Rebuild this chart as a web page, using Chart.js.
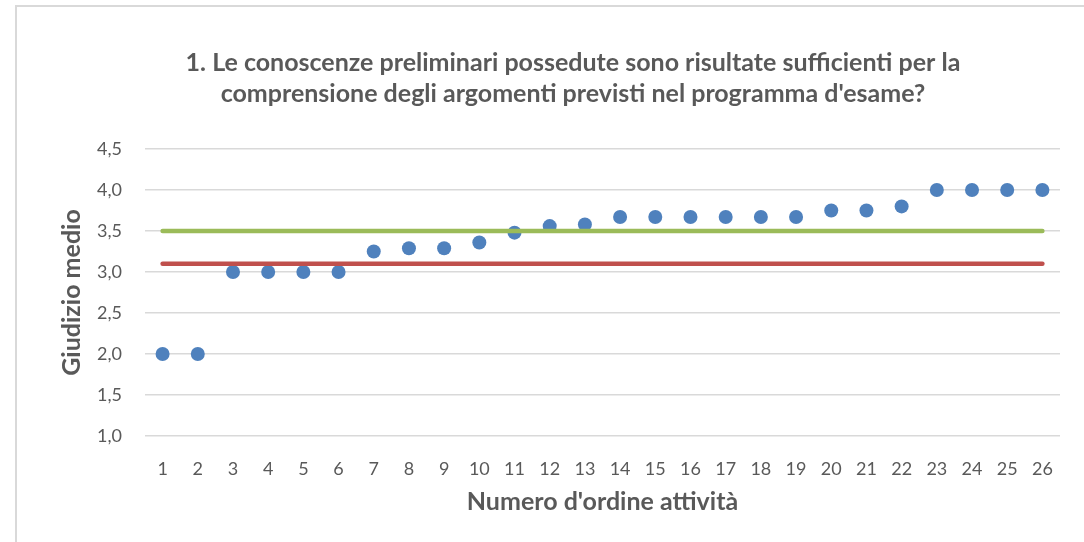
<!DOCTYPE html>
<html>
<head>
<meta charset="utf-8">
<script src="https://cdn.jsdelivr.net/npm/chart.js@4/dist/chart.umd.min.js"></script>
<style>
  html, body { margin: 0; padding: 0; background: #fff; overflow: hidden; }
  #frame { position: absolute; left: 15px; top: 5px; width: 1117px; height: 600px; border: 2px solid #d9d9d9; box-sizing: border-box; }
  #wrap { position: absolute; left: 0; top: 0; width: 1146px; height: 542px; }
</style>
</head>
<body>
<div id="frame"></div>
<div id="wrap"><canvas id="chart"></canvas></div>
<script>
const categories = ['1','2','3','4','5','6','7','8','9','10','11','12','13','14','15','16','17','18','19','20','21','22','23','24','25','26'];
const giudizio = [2.0, 2.0, 3.0, 3.0, 3.0, 3.0, 3.25, 3.29, 3.29, 3.36, 3.48, 3.56, 3.58, 3.67, 3.67, 3.67, 3.67, 3.67, 3.67, 3.75, 3.75, 3.8, 4.0, 4.0, 4.0, 4.0];
const sogliaVerde = new Array(26).fill(3.5);
const mediaRossa = new Array(26).fill(3.1);
const titleLines = ['1. Le conoscenze preliminari possedute sono risultate sufficienti per la', "comprensione degli argomenti previsti nel programma d'esame?"];

const textColor = '#595959';
const fontFamily = 'Lato, "Open Sans", sans-serif';

// the chart frame is wider than the window (cropped on the right), so the canvas is too;
// an empty right axis keeps the plot area where it is while the title centres on the full width
new Chart(document.getElementById('chart'), {
  type: 'line',
  data: {
    labels: categories,
    datasets: [
      {
        label: 'Verde',
        data: sogliaVerde,
        borderColor: '#9bbb59',
        borderWidth: 4.5,
        borderCapStyle: 'round',
        pointRadius: 0,
        fill: false,
      },
      {
        label: 'Rosso',
        data: mediaRossa,
        borderColor: '#c0504d',
        borderWidth: 4.5,
        borderCapStyle: 'round',
        pointRadius: 0,
        fill: false,
      },
      {
        label: 'Giudizio medio',
        data: giudizio,
        showLine: false,
        pointRadius: 7,
        pointBackgroundColor: '#4f81bd',
        pointBorderColor: '#4f81bd',
        pointBorderWidth: 0,
      },
    ]
  },
  options: {
    responsive: true,
    maintainAspectRatio: false,
    animation: false,
    layout: { padding: 0 },
    plugins: {
      legend: { display: false },
      tooltip: { enabled: false },
      title: {
        display: true,
        text: titleLines,
        color: textColor,
        font: { family: fontFamily, size: 25, weight: 'bold', lineHeight: 1.24 },
        padding: { top: 47.5, bottom: 39.5 },
      }
    },
    scales: {
      x: {
        offset: true,
        grid: { display: false, drawTicks: false },
        border: { display: false },
        ticks: { color: textColor, font: { family: fontFamily, size: 18 }, padding: 22, maxRotation: 0, autoSkip: false },
        title: {
          display: true,
          text: "Numero d'ordine attività",
          color: textColor,
          font: { family: fontFamily, size: 25, weight: 'bold' },
          padding: { top: 0, bottom: 25 },
        },
        afterFit: scale => { scale.height = 106; },
      },
      y: {
        min: 1,
        max: 4.5,
        ticks: {
          stepSize: 0.5,
          color: textColor,
          font: { family: fontFamily, size: 18 },
          padding: 23,
          callback: v => v.toFixed(1).replace('.', ','),
        },
        grid: { color: '#d9d9d9', lineWidth: 1.5, drawTicks: false },
        border: { display: false },
        title: {
          display: true,
          text: 'Giudizio medio',
          color: textColor,
          font: { family: fontFamily, size: 25, weight: 'bold' },
          padding: { top: 57, bottom: 0 },
        },
        afterFit: scale => { scale.width = 145; },
      },
      yRight: {
        type: 'linear',
        position: 'right',
        min: 1,
        max: 4.5,
        grid: { display: false, drawTicks: false },
        border: { display: false },
        ticks: { display: false },
        afterFit: scale => { scale.width = 86; },
      }
    }
  }
});
</script>
</body>
</html>
